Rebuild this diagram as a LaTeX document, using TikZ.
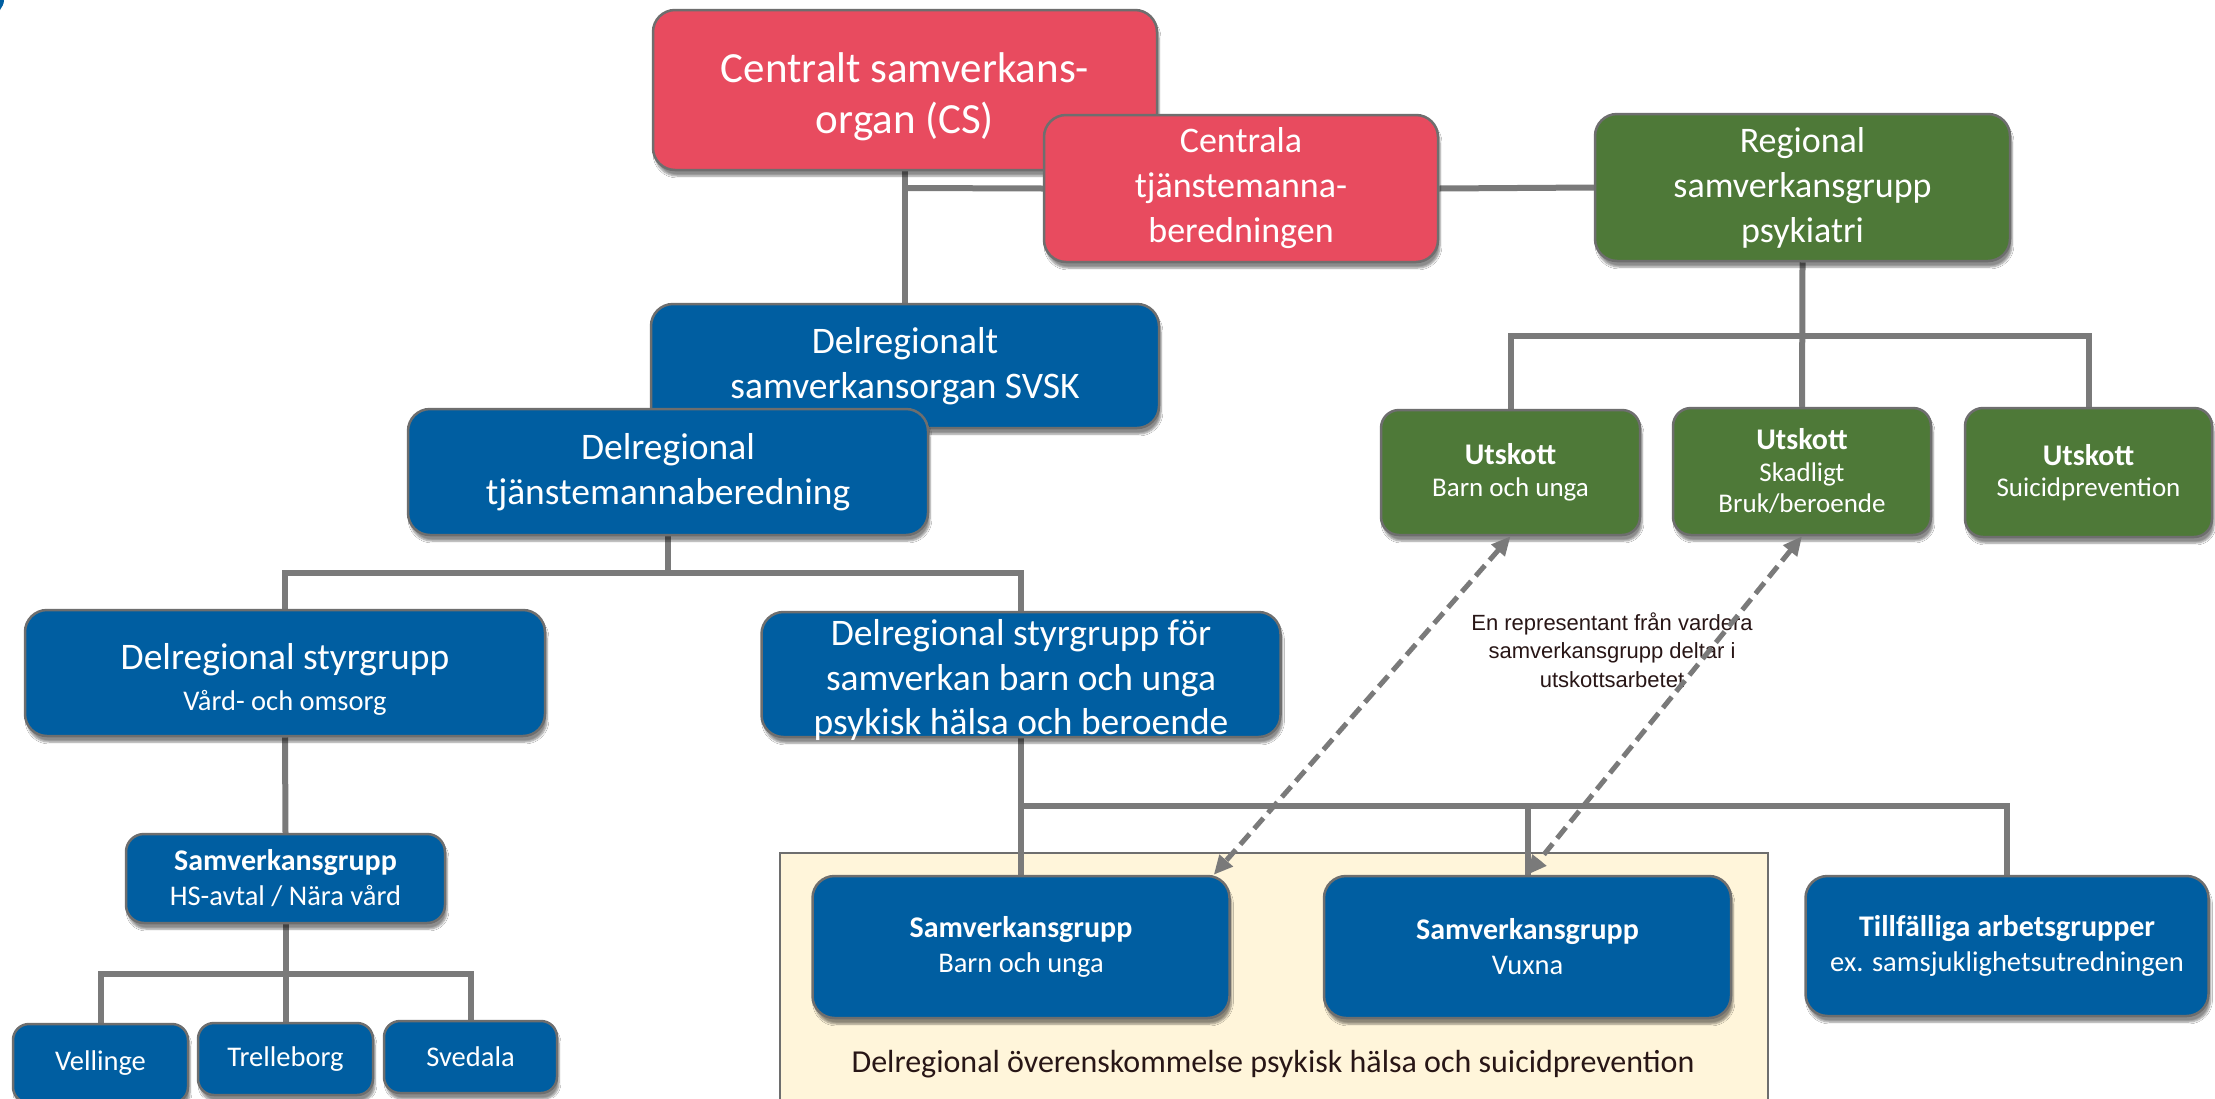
\documentclass[tikz,border=0pt]{standalone}
\usepackage{fontspec}
\setmainfont{Carlito}
\newfontfamily\arialfont{Liberation Sans}
\usetikzlibrary{arrows.meta,shadows.blur}
\definecolor{cred}{RGB}{232,75,95}
\definecolor{cblue}{RGB}{0,94,161}
\definecolor{cgreen}{RGB}{78,121,56}
\definecolor{ccream}{RGB}{255,245,218}
\definecolor{cline}{RGB}{122,122,122}
\definecolor{cborder}{RGB}{110,110,110}
\definecolor{ctext}{RGB}{40,22,22}
\newcommand\myHuge{\fontsize{43}{51}\selectfont}
\newcommand\myBig{\fontsize{37.5}{45}\selectfont}
\newcommand\myCen{\fontsize{36}{45}\selectfont}
\newcommand\myMid{\fontsize{28.5}{35}\selectfont}
\newcommand\myBold{\fontsize{30}{35}\selectfont\bfseries}
\newcommand\mySm{\fontsize{27}{31.5}\selectfont}
\pgfdeclarelayer{back}
\pgfdeclarelayer{bg}
\pgfsetlayers{back,bg,main}
\begin{document}
\begin{tikzpicture}[x=1pt,y=-1pt,
  box/.style={draw=cborder, line width=2.5pt, rounded corners=22pt, align=center,
    text=white, inner sep=0pt,
    blur shadow={shadow xshift=2pt, shadow yshift=-6pt, shadow opacity=45, shadow blur steps=6}},
  rbox/.style={box, fill=cred},
  bbox/.style={box, fill=cblue},
  gbox/.style={box, fill=cgreen},
  conn/.style={draw=cline, line width=6pt},
  dasharrow/.style={draw=cline, line width=5pt, dash pattern=on 14pt off 7pt,
    {Triangle[length=19pt,width=17pt]}-{Triangle[length=19pt,width=17pt]}},
  txt/.style={align=center, inner sep=0pt}]
\useasboundingbox (0,0) rectangle (2215,1098);

% top red / green
\node[rbox, minimum width=504pt, minimum height=160pt] (cs) at (905,90) {};
\node[txt, text=white, font=\myHuge] (cst) at (905,97) {Centralt samverkans-\\organ (CS)};
\node[rbox, minimum width=394pt, minimum height=147pt, font=\myCen] (ctb) at (1241,188.5) {Centrala\\tjänstemanna-\\beredningen};
\node[gbox, minimum width=415pt, minimum height=147pt, font=\myCen] (reg) at (1802.5,187.5) {Regional\\samverkansgrupp\\psykiatri};

% utskott
\node[gbox, rounded corners=18pt, minimum width=259pt, minimum height=125pt, font=\mySm] (u1) at (1510.5,472.5) {{\myBold Utskott}\\Barn och unga};
\node[gbox, rounded corners=18pt, minimum width=258pt, minimum height=127pt, font=\mySm] (u2) at (1802,471.5) {{\myBold Utskott}\\Skadligt\\Bruk/beroende};
\node[gbox, rounded corners=18pt, minimum width=247pt, minimum height=129pt, font=\mySm] (u3) at (2088.5,472.5) {{\myBold Utskott}\\Suicidprevention};

% delregional
\node[bbox, minimum width=508pt, minimum height=124pt, font=\myBig] (svsk) at (905,366) {Delregionalt\\samverkansorgan SVSK};
\node[bbox, minimum width=520pt, minimum height=126pt, font=\myBig] (dtb) at (668,472) {Delregional\\tjänstemannaberedning};
\node[bbox, minimum width=520pt, minimum height=126pt] (dsv) at (285,673) {};
\node[txt, text=white, font=\myMid] (dsvt) at (285,679) {{\myBig Delregional styrgrupp}\\[6pt]Vård- och omsorg};
\node[bbox, minimum width=519pt, minimum height=125pt] (dsb) at (1021,674.5) {};
\node[txt, text=white, font=\fontsize{37.5}{44.5}\selectfont] (dsbt) at (1021,680) {Delregional styrgrupp för\\samverkan barn och unga\\psykisk hälsa och beroende};

% left branch
\node[bbox, rounded corners=18pt, minimum width=319pt, minimum height=89pt, font=\myMid] (hs) at (285.5,878.5) {{\myBold Samverkansgrupp}\\HS-avtal / Nära vård};
\node[bbox, rounded corners=16pt, minimum width=175pt, minimum height=79pt, font=\myMid] (vel) at (100.5,1063.5) {Vellinge};
\node[bbox, rounded corners=16pt, minimum width=175pt, minimum height=72pt, font=\myMid] (tre) at (285.5,1059) {Trelleborg};
\node[bbox, rounded corners=16pt, minimum width=173pt, minimum height=72pt, font=\myMid] (sve) at (470.5,1057) {Svedala};

% yellow area boxes
\node[bbox, minimum width=417pt, minimum height=142pt, font=\myMid] (sbu) at (1021,947) {{\myBold Samverkansgrupp}\\Barn och unga};
\node[bbox, minimum width=407pt, minimum height=142pt, font=\myMid] (sv) at (1527.5,947) {{\myBold Samverkansgrupp}\\Vuxna};
\node[bbox, minimum width=403pt, minimum height=140pt, font=\myMid] (ta) at (2007,946) {{\myBold Tillfälliga arbetsgrupper}\\ex. samsjuklighetsutredningen};
\node[txt, text=ctext, font=\fontsize{32}{37}\selectfont] (yelt) at (1273,1064) {Delregional överenskommelse psykisk hälsa och suicidprevention};

% note
\node[txt, text=ctext, font=\arialfont\fontsize{22}{28.5}\selectfont] (note) at (1612,650) {En representant från vardera\\samverkansgrupp deltar i\\utskottsarbetet};

% junction coordinates
\coordinate (jcs) at (905,188);
\coordinate (jreg) at (1802.5,336);
\coordinate (jdtb) at (668,573);
\coordinate (jdsb) at (1021,806);
\coordinate (jhs) at (285.5,974);

% dashed arrows
\draw[dasharrow] (u1.south) -- ([xshift=-17pt]sbu.north east);
\draw[dasharrow] (u2.south) -- (sv.north);

\begin{pgfonlayer}{back}
\fill[white] (0,0) rectangle (2215,1098);
\fill[cblue] (0,0) -- (4,0) .. controls (4,4) and (2,7) .. (0,10) -- cycle;
\node[draw=cborder, fill=ccream, line width=2pt, minimum width=988pt, minimum height=262pt, inner sep=0pt] (yel) at (1274,984) {};
\end{pgfonlayer}

\begin{pgfonlayer}{bg}
\draw[conn] (cs.south) -- (svsk.north);
\draw[conn] (jcs) -- (ctb.west);
\draw[conn] (ctb.east) -- (reg.west);
\draw[conn] (reg.south) -- (u2.north);
\draw[conn] (u1.north) |- (jreg) -| (u3.north);
\draw[conn] (dtb.south) -- (jdtb);
\draw[conn] (dsv.north) |- (jdtb) -| (dsb.north);
\draw[conn] (dsv.south) -- (hs.north);
\draw[conn] (hs.south) -- (tre.north);
\draw[conn] (vel.north) |- (jhs) -| (sve.north);
\draw[conn] (dsb.south) -- (sbu.north);
\draw[conn] (jdsb) -| (sv.north);
\draw[conn] (jdsb) -| (ta.north);
\end{pgfonlayer}
\end{tikzpicture}
\end{document}
